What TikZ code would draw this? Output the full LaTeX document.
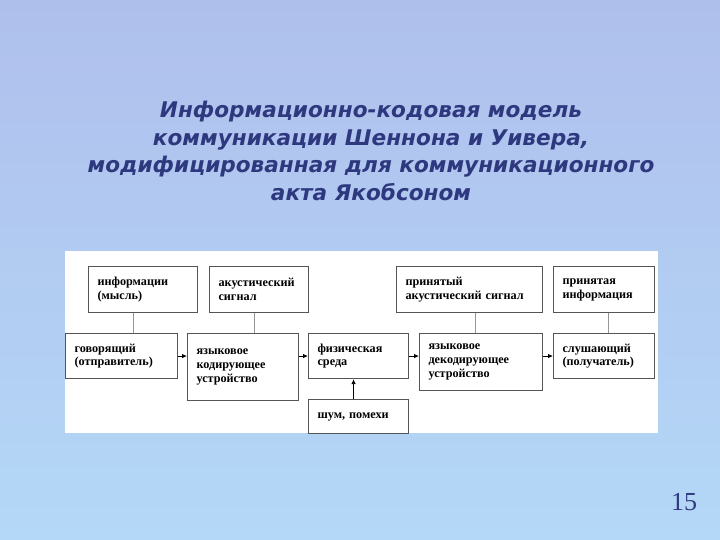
\documentclass[tikz,border=0pt]{standalone}
\usepackage{fontspec}
\setmainfont{Liberation Serif}
\newfontfamily\titlefont{DejaVu Sans}
\usetikzlibrary{arrows.meta}
\definecolor{bgtop}{RGB}{175,191,236}
\definecolor{bgbot}{RGB}{180,216,247}
\definecolor{titleblue}{RGB}{46,56,126}
\definecolor{boxline}{RGB}{85,85,85}
\definecolor{conn}{RGB}{150,150,150}
\tikzset{
  box/.style={draw=boxline, line width=1.1pt, fill=white, anchor=north west,
    inner xsep=9pt, inner ysep=2pt, align=left,
    font=\fontsize{12.2}{13.8}\selectfont\bfseries},
  link/.style={draw=conn, line width=0.9pt},
  flow/.style={draw=black, line width=0.8pt, -{Latex[length=5pt,width=4.5pt]}},
}
\begin{document}
\begin{tikzpicture}[x=1pt,y=-1pt]
\shade[top color=bgtop, bottom color=bgbot] (0,0) rectangle (720,540);
\useasboundingbox (0,0) rectangle (720,540);
% title
\node[text=titleblue, align=center,
  font=\titlefont\fontsize{21.6}{27.5}\selectfont\bfseries\itshape] (title) at (371,151)
  {Информационно-кодовая модель\\коммуникации Шеннона и Уивера,\\модифицированная для коммуникационного\\акта Якобсоном};
% panel
\fill[white] (65,251) rectangle (658,433);
% top boxes
\node[box, minimum width=109pt, minimum height=46pt, text width=91pt] (info) at (88,266) {информации\\(мысль)};
\node[box, minimum width=99pt, minimum height=46pt, text width=81pt] (acs) at (209,266) {акустический\\сигнал};
\node[box, minimum width=146pt, minimum height=46pt, text width=128pt] (racs) at (396,266) {принятый\\акустический сигнал};
\node[box, minimum width=101pt, minimum height=46pt, text width=83pt] (rinfo) at (553,266) {принятая\\информация};
% bottom row
\node[box, minimum width=112pt, minimum height=45pt, text width=94pt] (spk) at (65,333) {говорящий\\(отправитель)};
\node[box, minimum width=111pt, minimum height=67pt, text width=93pt] (enc) at (187,333) {языковое\\кодирующее\\устройство};
\node[box, minimum width=100pt, minimum height=45pt, text width=82pt] (med) at (308,333) {физическая\\среда};
\node[box, minimum width=123pt, minimum height=57pt, text width=105pt] (dec) at (419,333) {языковое\\декодирующее\\устройство};
\node[box, minimum width=101pt, minimum height=45pt, text width=83pt] (lst) at (553,333) {слушающий\\(получатель)};
\node[box, minimum width=100pt, minimum height=34pt, text width=82pt] (noise) at (308,399) {шум, помехи};
% vertical links
\draw[link] ([xshift=-10pt]info.south) -- ([xshift=-10pt]info.south |- spk.north);
\draw[link] ([xshift=-5pt]acs.south) -- ([xshift=-5pt]acs.south |- enc.north);
\draw[link] ([xshift=6pt]racs.south) -- ([xshift=6pt]racs.south |- dec.north);
\draw[link] ([xshift=4pt]rinfo.south) -- ([xshift=4pt]rinfo.south |- lst.north);
% flow arrows
\draw[flow] (spk.east) -- (spk.east -| enc.west);
\draw[flow] (spk.east -| enc.east) -- (spk.east -| med.west);
\draw[flow] (spk.east -| med.east) -- (spk.east -| dec.west);
\draw[flow] (spk.east -| dec.east) -- (spk.east -| lst.west);
\draw[flow] ([xshift=-5pt]noise.north) -- ([xshift=-5pt]noise.north |- med.south);
% page number
\node[text=titleblue, font=\fontsize{26}{26}\selectfont] (pg) at (684,502) {15};
\end{tikzpicture}
\end{document}
